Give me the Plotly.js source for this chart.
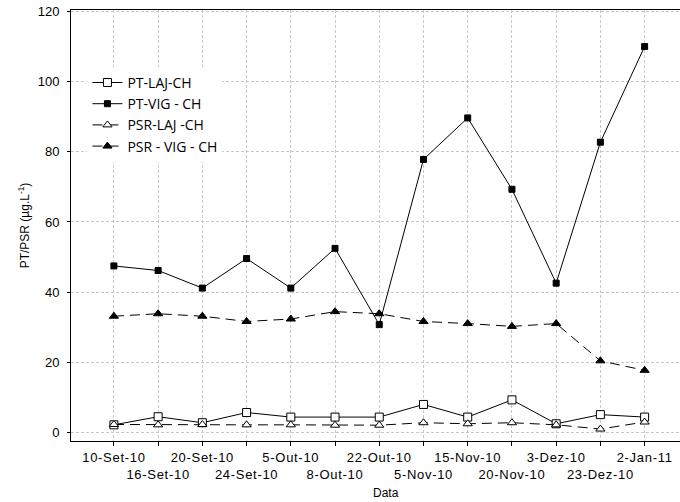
<!DOCTYPE html>
<html>
<head>
<meta charset="utf-8">
<script src="https://cdn.plot.ly/plotly-3.0.1.min.js"></script>
<style>
html,body{margin:0;padding:0;background:#fff;overflow:hidden;}
.xtick text{letter-spacing:0.7px;}
</style>
</head>
<body>
<div id="chart" style="width:680px;height:502px;"></div>
<script>
const dates = ["10-Set-10","16-Set-10","20-Set-10","24-Set-10","5-Out-10","8-Out-10","22-Out-10","5-Nov-10","15-Nov-10","20-Nov-10","3-Dez-10","23-Dez-10","2-Jan-11"];
const ptLaj  = [2.3, 4.6, 2.9, 5.8, 4.5, 4.5, 4.5, 8.1, 4.5, 9.4, 2.6, 5.2, 4.5];
const ptVig  = [47.5, 46.2, 41.2, 49.6, 41.2, 52.5, 30.8, 77.8, 89.6, 69.3, 42.6, 82.7, 109.9];
const psrLaj = [2.4, 2.3, 2.4, 2.3, 2.3, 2.2, 2.2, 2.9, 2.6, 2.9, 2.3, 1.1, 3.1];
const psrVig = [33.2, 33.9, 33.2, 31.7, 32.4, 34.5, 33.9, 31.7, 31.1, 30.3, 31.1, 20.5, 17.8];
const names = ["PT-LAJ-CH", "PT-VIG - CH", "PSR-LAJ -CH", "PSR - VIG - CH"];
const yTicks = [0, 20, 40, 60, 80, 100, 120];

const tickText = dates.map((d, i) => i % 2 === 0 ? d : "\u00a0<br>" + d);

function tr(y, name, symbol, fill, dash, size) {
  return {
    x: dates, y: y, name: name, type: "scatter", mode: "lines+markers",
    line: {color: "#000", width: 1, dash: dash},
    marker: {symbol: symbol, size: size, color: fill, line: {color: "#000", width: 1}}
  };
}
const data = [
  tr(ptLaj, names[0], "square", "#fff", "solid", 8),
  tr(ptVig, names[1], "square", "#000", "solid", 6),
  tr(psrLaj, names[2], "triangle-up", "#fff", "10px,6px", 8),
  tr(psrVig, names[3], "triangle-up", "#000", "10px,6px", 8)
];

const sans = "'Liberation Sans', Arial, sans-serif";
const layout = {
  width: 680, height: 502,
  margin: {l: 71, r: 0, t: 10, b: 61},
  paper_bgcolor: "#fff", plot_bgcolor: "#fff",
  font: {family: sans, color: "#000"},
  showlegend: true,
  legend: {x: 0.027, y: 0.868, xanchor: "left", yanchor: "top", bgcolor: "#fff",
           font: {family: "'Open Sans', sans-serif", size: 14}, tracegroupgap: 0, itemwidth: 30},
  xaxis: {
    type: "category", range: [-0.97, 12.8],
    tickmode: "array", tickvals: dates, ticktext: tickText, tickangle: 0,
    tickfont: {family: sans, size: 13}, ticks: "outside", ticklen: 4, tickcolor: "#000",
    showline: true, linecolor: "#000", linewidth: 1, mirror: true,
    showgrid: true, gridcolor: "#c8c8c8", gridwidth: 1, griddash: "3px,2px",
    zeroline: false
  },
  yaxis: {
    range: [-2.3, 120.3], tickmode: "array", tickvals: yTicks,
    tickfont: {family: sans, size: 13}, ticks: "outside", ticklen: 3, tickcolor: "#000",
    ticklabelstandoff: 5,
    showline: true, linecolor: "#000", linewidth: 1, mirror: false,
    showgrid: true, gridcolor: "#c8c8c8", gridwidth: 1, griddash: "3px,2px",
    zeroline: false,
    title: {text: "PT/PSR (µg.L<sup>-1</sup>)", font: {family: sans, size: 12}, standoff: 5}
  },
  annotations: [{
    text: "Data", xref: "paper", yref: "paper", x: 0.517, y: -0.121,
    xanchor: "center", yanchor: "middle", showarrow: false, font: {family: sans, size: 12}
  }]
};

Plotly.newPlot("chart", data, layout, {displayModeBar: false, staticPlot: true});
</script>
</body>
</html>
